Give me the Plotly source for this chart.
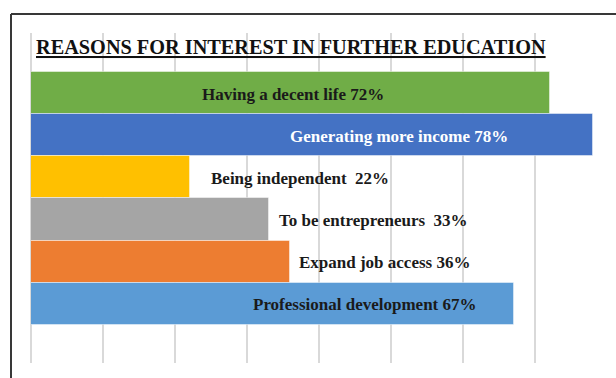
import plotly.graph_objects as go

# Survey results: reasons respondents gave for wanting further education
categories = [
    "Having a decent life",
    "Generating more income",
    "Being independent",
    "To be entrepreneurs",
    "Expand job access",
    "Professional development",
]
percent = [72, 78, 22, 33, 36, 67]
label_gap = [" ", " ", "  ", "  ", " ", " "]

bar_colors = ["#70AD47", "#4472C4", "#FFC000", "#A5A5A5", "#ED7D31", "#5B9BD5"]
label_colors = ["#1a1a1a", "#ffffff", "#1a1a1a", "#1a1a1a", "#1a1a1a", "#1a1a1a"]
# horizontal centre of each data label, in axis units
label_x = [36.3, 51.1, 37.3, 47.5, 49.0, 46.4]

W, H = 616, 378
serif = "Liberation Serif, Times New Roman, serif"

fig = go.Figure(
    go.Bar(
        y=categories,
        x=percent,
        orientation="h",
        width=1.0,
        marker=dict(color=bar_colors, line=dict(color="rgba(255,255,255,0.45)", width=1)),
        hoverinfo="skip",
    )
)

for cat, val, gap, col, lx in zip(categories, percent, label_gap, label_colors, label_x):
    fig.add_annotation(
        x=lx, y=cat, xref="x", yref="y",
        text=f"<b>{cat}{gap}{val}%</b>",
        showarrow=False, xanchor="center", yanchor="middle", yshift=-1,
        font=dict(family=serif, size=17, color=col),
    )

# chart title
fig.add_annotation(
    x=34 / W, y=1 - 47 / H, xref="paper", yref="paper",
    text="<b><u>REASONS FOR INTEREST IN FURTHER EDUCATION</u></b>",
    showarrow=False, xanchor="left", yanchor="middle",
    font=dict(family=serif, size=20.3, color="#111111"),
)

# chart frame (top and left edges)
frame = dict(color="#383838", width=2)
fig.add_shape(type="line", xref="paper", yref="paper",
              x0=11 / W, x1=1.02, y0=1 - 14 / H, y1=1 - 14 / H, line=frame)
fig.add_shape(type="line", xref="paper", yref="paper",
              x0=11 / W, x1=11 / W, y0=-0.02, y1=1 - 14 / H, line=frame)

fig.update_layout(
    width=W, height=H,
    margin=dict(l=0, r=0, t=0, b=0),
    paper_bgcolor="white", plot_bgcolor="white",
    showlegend=False,
    bargap=0,
    xaxis=dict(
        domain=[31 / W, 607.5 / W],
        range=[0, 80], dtick=10,
        showgrid=True, gridcolor="#d9d9d9", gridwidth=2,
        zeroline=True, zerolinecolor="#d9d9d9", zerolinewidth=2,
        showticklabels=False, showline=False, ticks="",
        fixedrange=True,
    ),
    yaxis=dict(
        domain=[(H - 363) / H, (H - 33) / H],
        range=[6.404, -1.423],
        showgrid=False, zeroline=False, showticklabels=False,
        showline=False, ticks="", fixedrange=True,
    ),
)

fig.write_html("out.html")
